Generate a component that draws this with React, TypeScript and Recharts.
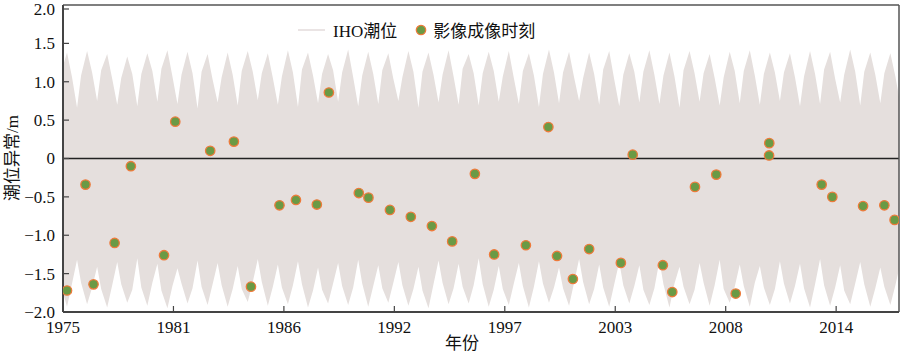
import { ComposedChart, Area, Scatter, XAxis, YAxis, ReferenceLine } from "recharts";

const FONT = "'Liberation Serif', 'Times New Roman', 'Noto Sans CJK SC', serif";
const TIDE_COLOR = "#e5dfdd";
const DOT_FILL = "#6a9a45";
const DOT_EDGE = "#ee7a3a";
const AXIS_COLOR = "#444";

// x axis ticks (5.5 year steps) and their printed labels
const xTicks = [1975, 1980.5, 1986, 1991.5, 1997, 2002.5, 2008, 2013.5];
const xTickLabels = ["1975", "1981", "1986", "1992", "1997", "2003", "2008", "2014"];
const yTicks = [-2, -1.5, -1, -0.5, 0, 0.5, 1, 1.5, 2];
const yTickLabels = ["\u22122.0", "\u22121.5", "\u22121.0", "\u22120.5", "0", "0.5", "1.0", "1.5", "2.0"];

// IHO tide envelope: peak (~.2 of each year), shoulders, trough (~.7)
const upperPeak = [1.38, 1.4, 1.36, 1.33, 1.37, 1.41, 1.39, 1.36, 1.38, 1.4, 1.37, 1.41, 1.38, 1.36, 1.42, 1.39, 1.37, 1.4, 1.38, 1.41, 1.36, 1.39, 1.4, 1.37, 1.42, 1.39, 1.38, 1.4, 1.37, 1.41, 1.38, 1.4, 1.36, 1.39, 1.41, 1.38, 1.37, 1.4, 1.39, 1.42, 1.38, 1.37];
const upperRise = [1.12, 1.08, 1.15, 1.05, 1.1, 1.17, 1.09, 1.13, 1.06, 1.14, 1.11, 1.07, 1.16, 1.1, 1.12, 1.08, 1.15, 1.06, 1.13, 1.09, 1.17, 1.11, 1.07, 1.14, 1.1, 1.12, 1.05, 1.16, 1.09, 1.13, 1.08, 1.15, 1.11, 1.06, 1.14, 1.1, 1.12, 1.07, 1.16, 1.09, 1.13, 1.11];
const upperFall = [1.06, 1.12, 1.04, 1.1, 1.14, 1.07, 1.11, 1.03, 1.09, 1.13, 1.05, 1.12, 1.08, 1.15, 1.06, 1.1, 1.04, 1.13, 1.09, 1.07, 1.11, 1.14, 1.05, 1.08, 1.12, 1.06, 1.1, 1.03, 1.13, 1.09, 1.07, 1.11, 1.05, 1.14, 1.08, 1.12, 1.06, 1.1, 1.04, 1.13, 1.09, 1.07];
const upperTrough = [0.72, 0.66, 0.75, 0.7, 0.68, 0.74, 0.71, 0.65, 0.73, 0.69, 0.76, 0.7, 0.67, 0.72, 0.74, 0.68, 0.71, 0.75, 0.66, 0.73, 0.7, 0.69, 0.74, 0.71, 0.67, 0.72, 0.75, 0.7, 0.68, 0.73, 0.71, 0.66, 0.74, 0.69, 0.72, 0.7, 0.75, 0.68, 0.71, 0.73, 0.69, 0.72, 0.7];
const lowerDeep = [-1.93, -1.9, -1.94, -1.88, -1.92, -1.95, -1.89, -1.91, -1.93, -1.87, -1.92, -1.9, -1.94, -1.89, -1.91, -1.93, -1.88, -1.92, -1.95, -1.9, -1.89, -1.93, -1.91, -1.94, -1.88, -1.92, -1.9, -1.93, -1.89, -1.91, -1.94, -1.9, -1.92, -1.88, -1.93, -1.91, -1.89, -1.94, -1.92, -1.9, -1.93, -1.91];
const lowerRise = [-1.66, -1.62, -1.7, -1.64, -1.68, -1.72, -1.63, -1.67, -1.65, -1.7, -1.61, -1.68, -1.64, -1.71, -1.66, -1.63, -1.69, -1.65, -1.72, -1.62, -1.67, -1.64, -1.7, -1.66, -1.63, -1.69, -1.61, -1.68, -1.65, -1.71, -1.64, -1.67, -1.62, -1.7, -1.66, -1.68, -1.63, -1.69, -1.65, -1.72, -1.64, -1.67];
const lowerFall = [-1.63, -1.68, -1.65, -1.71, -1.62, -1.66, -1.69, -1.64, -1.7, -1.61, -1.67, -1.65, -1.72, -1.63, -1.68, -1.66, -1.62, -1.7, -1.64, -1.69, -1.65, -1.71, -1.63, -1.67, -1.68, -1.62, -1.7, -1.64, -1.66, -1.69, -1.63, -1.71, -1.65, -1.67, -1.62, -1.7, -1.66, -1.64, -1.68, -1.63, -1.69, -1.65];
const lowerShallow = [-1.38, -1.32, -1.41, -1.35, -1.3, -1.37, -1.43, -1.33, -1.36, -1.4, -1.31, -1.38, -1.34, -1.42, -1.36, -1.32, -1.39, -1.35, -1.41, -1.33, -1.37, -1.3, -1.4, -1.36, -1.34, -1.42, -1.31, -1.38, -1.35, -1.39, -1.33, -1.41, -1.36, -1.32, -1.38, -1.4, -1.34, -1.37, -1.31, -1.39, -1.35, -1.42, -1.36];

// image acquisition times and the tide at that moment
const shotYears = [1975.2, 1976.12, 1976.52, 1977.57, 1978.38, 1980.03, 1980.59, 1982.33, 1983.51, 1984.36, 1985.78, 1986.6, 1987.64, 1988.24, 1989.73, 1990.21, 1991.28, 1992.32, 1993.37, 1994.38, 1995.51, 1996.47, 1998.05, 1999.17, 1999.6, 2000.39, 2001.2, 2002.78, 2003.37, 2004.87, 2005.34, 2006.47, 2007.53, 2008.5, 2010.17, 2010.16, 2012.78, 2013.31, 2014.84, 2015.9, 2016.41];
const shotTide = [-1.72, -0.34, -1.64, -1.1, -0.1, -1.26, 0.48, 0.1, 0.22, -1.67, -0.61, -0.54, -0.6, 0.86, -0.45, -0.51, -0.67, -0.76, -0.88, -1.08, -0.2, -1.25, -1.13, 0.41, -1.27, -1.57, -1.18, -1.36, 0.05, -1.39, -1.74, -0.37, -0.21, -1.76, 0.2, 0.04, -0.34, -0.5, -0.62, -0.61, -0.8];

const X_MIN = 1975;
const X_MAX = 2016.63;

const tideRows: { year: number; band: [number, number] }[] = [];
upperTrough.forEach((_, i) => {
  tideRows.push({ year: 1974.7 + i, band: [lowerShallow[i], upperTrough[i]] });
  if (i < upperPeak.length) {
    tideRows.push({ year: 1974.9 + i, band: [lowerRise[i], upperRise[i]] });
    tideRows.push({ year: 1975.2 + i, band: [lowerDeep[i], upperPeak[i]] });
    tideRows.push({ year: 1975.45 + i, band: [lowerFall[i], upperFall[i]] });
  }
});

const shotRows = shotYears.map((year, i) => ({ year, tide: shotTide[i] }));

function XTick({ x, y, payload }: any) {
  const label = xTickLabels[xTicks.indexOf(payload.value)];
  return (
    <g>
      <line x1={x} y1={y} x2={x} y2={y - 6} stroke={AXIS_COLOR} strokeWidth={1.2} />
      <text x={x} y={y + 21} textAnchor="middle" fontSize={17} fontFamily={FONT} fill="#111">
        {label}
      </text>
    </g>
  );
}

function YTick({ x, y, payload }: any) {
  const label = yTickLabels[yTicks.indexOf(payload.value)];
  return (
    <g>
      <line x1={x} y1={y} x2={x + 6} y2={y} stroke={AXIS_COLOR} strokeWidth={1.2} />
      <text x={x - 8} y={y} dy="0.35em" textAnchor="end" fontSize={17} fontFamily={FONT} fill="#111">
        {label}
      </text>
    </g>
  );
}

function Dot({ cx, cy }: any) {
  if (cx == null || cy == null) return null;
  return <circle cx={cx} cy={cy} r={4.7} fill={DOT_FILL} stroke={DOT_EDGE} strokeWidth={1.3} />;
}

function YTitle() {
  return (
    <text x={18} y={158} transform="rotate(-90, 18, 158)" textAnchor="middle" fontSize={17} fontFamily={FONT} fill="#111">
      潮位异常/m
    </text>
  );
}

function XTitle() {
  return (
    <text x={462} y={349} textAnchor="middle" fontSize={17} fontFamily={FONT} fill="#111">
      年份
    </text>
  );
}

export default function App() {
  return (
    <div style={{ position: "absolute", left: 0, top: 0, width: 900, height: 354, background: "#fff", fontFamily: FONT }}>
      <ComposedChart width={900} height={354} data={tideRows} margin={{ top: 5, right: 1, left: 0, bottom: 0 }}>
        <XAxis
          dataKey="year"
          type="number"
          domain={[X_MIN, X_MAX]}
          allowDataOverflow
          ticks={xTicks}
          tick={<XTick />}
          tickSize={0}
          tickMargin={0}
          height={42}
          axisLine={{ stroke: AXIS_COLOR, strokeWidth: 2 }}
          label={<XTitle />}
        />
        <YAxis
          type="number"
          domain={[-2, 2]}
          allowDataOverflow
          ticks={yTicks}
          tick={<YTick />}
          tickSize={0}
          tickMargin={0}
          width={63}
          axisLine={{ stroke: AXIS_COLOR, strokeWidth: 2 }}
          label={<YTitle />}
        />
        <Area
          type="linear"
          dataKey="band"
          stroke="none"
          fill={TIDE_COLOR}
          fillOpacity={1}
          isAnimationActive={false}
          dot={false}
          activeDot={false}
        />
        <ReferenceLine y={0} stroke="#222" strokeWidth={1.5} />
        <ReferenceLine y={2} stroke="#555" strokeWidth={1.5} />
        <ReferenceLine x={X_MAX} stroke="#555" strokeWidth={1.5} />
        <Scatter data={shotRows} dataKey="tide" shape={<Dot />} isAnimationActive={false} />
      </ComposedChart>
      <div
        style={{
          position: "absolute",
          left: 297,
          top: 17,
          display: "flex",
          alignItems: "center",
          fontSize: 17,
          color: "#111",
          whiteSpace: "nowrap",
        }}
      >
        <svg width={30} height={20}>
          <line x1={1} y1={10} x2={28} y2={10} stroke="#e3dbdb" strokeWidth={1.5} />
        </svg>
        <span style={{ marginLeft: 6 }}>IHO潮位</span>
        <svg width={24} height={20} style={{ marginLeft: 12 }}>
          <circle cx={12} cy={10} r={4.7} fill={DOT_FILL} stroke={DOT_EDGE} strokeWidth={1.3} />
        </svg>
        <span>影像成像时刻</span>
      </div>
    </div>
  );
}
